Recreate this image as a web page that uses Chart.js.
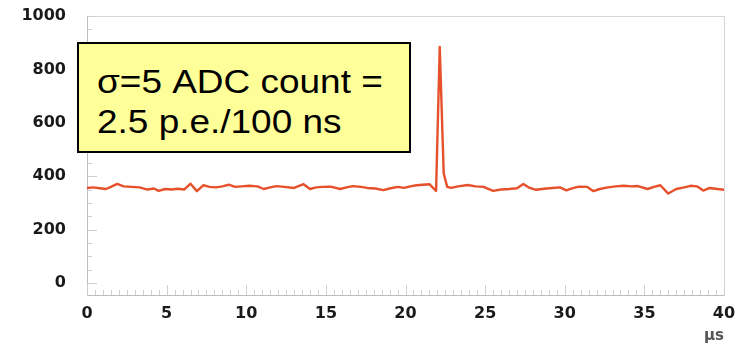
<!DOCTYPE html>
<html>
<head>
<meta charset="utf-8">
<script src="https://cdn.jsdelivr.net/npm/chart.js@4.4.1/dist/chart.umd.min.js"></script>
<style>
  html, body { margin: 0; padding: 0; background: #ffffff; }
  #wrap { position: relative; width: 744px; height: 345px; }
  #trace { position: absolute; left: 0; top: 0; }
  #note {
    position: absolute; left: 77px; top: 42px; width: 330px; height: 107px;
    background: #ffff99; border: 2px solid #000000;
  }
  #note span {
    position: absolute; left: 18px; display: block; white-space: nowrap;
    font-family: "Liberation Sans", Arial, sans-serif; font-size: 33px; line-height: 40px;
    color: #000000; transform: scaleX(1.12); transform-origin: 0 0;
  }
</style>
</head>
<body>
<div id="wrap">
  <canvas id="trace" width="744" height="345"></canvas>
  <div id="note">
    <span style="top:18px">σ=5 ADC count =</span>
    <span style="top:58px">2.5 p.e./100 ns</span>
  </div>
</div>
<script>
// Sampling times (µs) of the ADC trace
const timeUs = [
  0.0, 0.4, 0.8, 1.2, 1.5, 1.9, 2.3, 2.8, 3.3, 3.8, 4.2, 4.5, 4.9, 5.3, 5.7, 6.1,
  6.5, 6.9, 7.3, 7.7, 8.1, 8.5, 8.9, 9.3, 9.7, 10.2, 10.7, 11.1, 11.5, 11.9, 12.4,
  13.0, 13.6, 14.0, 14.4, 14.8, 15.3, 15.9, 16.3, 16.7, 17.2, 17.6, 18.1, 18.6,
  19.0, 19.5, 19.9, 20.3, 20.7, 21.1, 21.5, 21.92, 22.15, 22.4, 22.62, 22.85,
  23.3, 23.9, 24.4, 24.9, 25.5, 26.0, 26.5, 27.0, 27.4, 27.8, 28.2, 28.7, 29.2,
  29.7, 30.1, 30.5, 30.9, 31.4, 31.8, 32.2, 32.7, 33.2, 33.7, 34.2, 34.6, 35.2,
  35.6, 36.0, 36.5, 37.0, 37.5, 37.9, 38.3, 38.7, 39.1, 39.6, 40.0
];
// ADC counts at those times
const adcCounts = [
  356, 358, 355, 352, 360, 371, 362, 360, 358, 350, 354, 345, 352, 350, 353, 350,
  372, 344, 366, 360, 358, 362, 368, 360, 362, 364, 362, 352, 358, 363, 360,
  356, 370, 352, 358, 360, 361, 352, 358, 363, 360, 356, 354, 348,
  354, 360, 356, 362, 366, 368, 370, 345, 884, 410, 360, 356,
  362, 367, 362, 360, 345, 350, 352, 355, 371, 356, 349, 353, 356,
  358, 347, 355, 361, 360, 344, 352, 358, 362, 364, 362, 363, 352,
  360, 366, 335, 352, 358, 364, 362, 346, 356, 352, 349
];
const xTickValues = [0, 5, 10, 15, 20, 25, 30, 35, 40];
const yTickValues = [0, 200, 400, 600, 800, 1000];

const points = timeUs.map((t, i) => ({ x: t, y: adcCounts[i] }));
const tickFont = { family: "'DejaVu Sans', sans-serif", size: 16, weight: 'bold' };

// Frame around the plot plus small inward tick marks on the left and bottom edges
const frameTicks = {
  id: 'frameTicks',
  beforeDatasetsDraw(chart) {
    const { ctx, chartArea: a, scales } = chart;
    const xs = scales.x, ys = scales.y;
    ctx.save();
    ctx.lineWidth = 1;
    ctx.strokeStyle = '#d6d6d6';
    ctx.strokeRect(a.left + 0.5, a.top + 0.5, a.right - a.left, a.bottom - a.top);
    ctx.strokeStyle = '#bdbdbd';
    ctx.beginPath();
    ctx.moveTo(a.left + 0.5, a.top);
    ctx.lineTo(a.left + 0.5, a.bottom + 0.5);
    ctx.lineTo(a.right, a.bottom + 0.5);
    ctx.stroke();
    ctx.strokeStyle = '#cfcfcf';
    ctx.beginPath();
    for (let k = 0; k <= 80; k++) {
      const v = k * 0.5;
      const px = Math.round(xs.getPixelForValue(v)) + 0.5;
      const len = (k % 10 === 0) ? 10 : 5;
      ctx.moveTo(px, a.bottom);
      ctx.lineTo(px, a.bottom - len);
    }
    for (let v = 0; v <= 1000; v += 50) {
      const py = Math.round(ys.getPixelForValue(v)) + 0.5;
      const len = (v % 200 === 0) ? 10 : 5;
      ctx.moveTo(a.left, py);
      ctx.lineTo(a.left + len, py);
    }
    ctx.stroke();
    ctx.restore();
  }
};

new Chart(document.getElementById('trace'), {
  type: 'line',
  data: {
    datasets: [{
      data: points,
      borderColor: '#e6502a',
      borderWidth: 2.4,
      borderJoinStyle: 'round',
      pointRadius: 0,
      tension: 0,
      fill: false
    }]
  },
  options: {
    responsive: false,
    animation: false,
    devicePixelRatio: 1,
    layout: { padding: { top: 16, right: 20, left: 0, bottom: 0 } },
    plugins: { legend: { display: false }, tooltip: { enabled: false } },
    scales: {
      x: {
        type: 'linear',
        min: 0, max: 40,
        afterFit(s) { s.height = 50; s.paddingLeft = 0; s.paddingRight = 0; },
        afterBuildTicks(s) { s.ticks = xTickValues.map(v => ({ value: v })); },
        grid: { display: false, drawTicks: false },
        border: { display: false },
        ticks: {
          font: tickFont, color: '#1a1a1a', padding: 9, maxRotation: 0, autoSkip: false,
          callback: v => String(v)
        },
        title: {
          display: true, text: 'µs', align: 'end',
          font: { family: "'DejaVu Sans', sans-serif", size: 15, weight: 'bold' },
          color: '#555555', padding: { top: 0, bottom: 0 }
        }
      },
      y: {
        type: 'linear',
        min: -45, max: 1000,
        afterFit(s) { s.width = 87; s.paddingTop = 0; s.paddingBottom = 0; },
        afterBuildTicks(s) { s.ticks = yTickValues.map(v => ({ value: v })); },
        grid: { display: false, drawTicks: false },
        border: { display: false },
        ticks: {
          font: tickFont, color: '#1a1a1a', padding: 21, autoSkip: false,
          callback: v => String(v)
        }
      }
    }
  },
  plugins: [frameTicks]
});
</script>
</body>
</html>
